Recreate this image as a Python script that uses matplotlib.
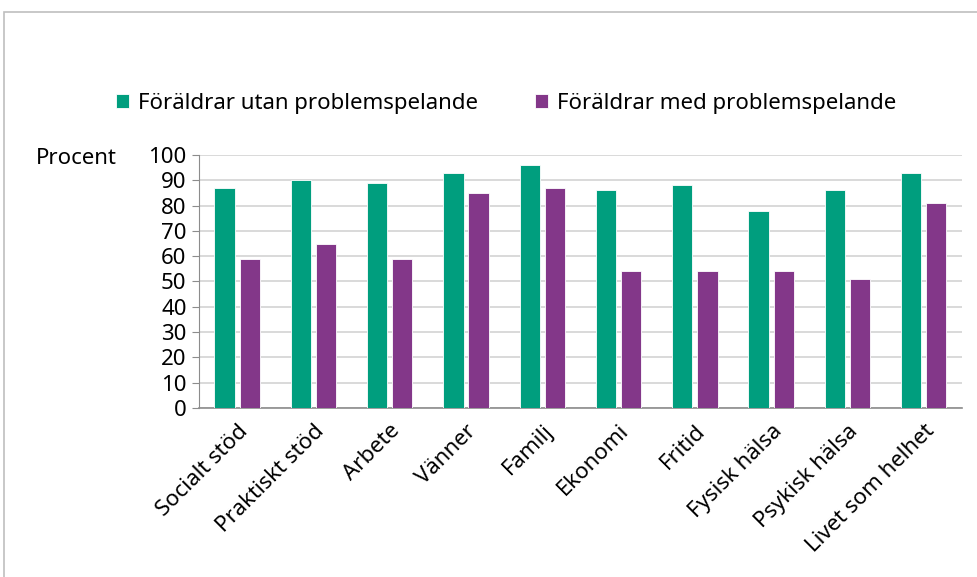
import numpy as np
import matplotlib

matplotlib.use("Agg")
import matplotlib.pyplot as plt
from matplotlib.patches import Rectangle

plt.rcParams["font.family"] = ["Noto Sans", "DejaVu Sans"]

categories = ["Socialt stöd", "Praktiskt stöd", "Arbete", "Vänner", "Familj",
              "Ekonomi", "Fritid", "Fysisk hälsa", "Psykisk hälsa", "Livet som helhet"]
utan = [87, 90, 89, 93, 96, 86, 88, 78, 86, 93]
med = [59, 65, 59, 85, 87, 54, 54, 54, 51, 81]
series_names = ["Föräldrar utan problemspelande", "Föräldrar med problemspelande"]

GREEN = "#009E7E"
PURPLE = "#833789"
FS = 16

fig = plt.figure(figsize=(9.78, 5.77), dpi=100)
ax = fig.add_axes([0.2035, 0.2929, 0.78, 0.4385])

# outer chart frame
fig.add_artist(Rectangle((4 / 978, -0.01), 1.0, 1 - 12 / 577 + 0.01,
                         transform=fig.transFigure, fill=False,
                         edgecolor="#BFBFBF", linewidth=1.2))

x = np.arange(len(categories))
w = 0.265
off = 0.165
b1 = ax.bar(x - off, utan, w, color=GREEN, edgecolor="white", linewidth=0.6,
            label=series_names[0], zorder=3)
b2 = ax.bar(x + off, med, w, color=PURPLE, edgecolor="white", linewidth=0.6,
            label=series_names[1], zorder=3)

ax.set_xlim(-0.5, len(categories) - 0.5)
ax.set_ylim(0, 100)
ax.set_yticks(np.arange(0, 101, 10))
ax.yaxis.grid(True, color="#D9D9D9", linewidth=1.4, zorder=0)
ax.set_axisbelow(True)

for s in ["top", "right"]:
    ax.spines[s].set_visible(False)
ax.spines["left"].set_color("#8C8C8C")
ax.spines["bottom"].set_color("#8C8C8C")
ax.spines["bottom"].set_linewidth(1.2)

ax.tick_params(axis="y", length=5, color="#8C8C8C", labelsize=FS, pad=4)
ax.tick_params(axis="x", length=0, labelsize=FS, pad=9)
ax.set_xticks(x)
ax.set_xticklabels(categories, rotation=45, ha="right", rotation_mode="anchor")

fig.text(76 / 978, 1 - 158 / 577, "Procent", fontsize=FS, ha="center", va="center")

fig.legend(handles=[b1, b2], labels=series_names, loc="center left",
           bbox_to_anchor=(116 / 978, 1 - 103 / 577), ncol=2, frameon=False,
           fontsize=FS, handlelength=0.6, handleheight=0.6, handletextpad=0.4,
           columnspacing=2.55, borderaxespad=0, borderpad=0)

fig.savefig("out.png", dpi=100, facecolor="white")
